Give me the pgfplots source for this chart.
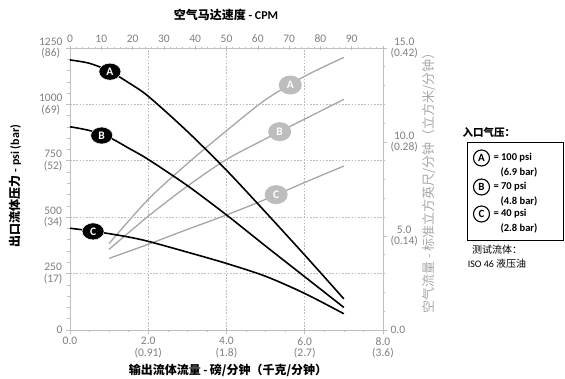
\documentclass[border=0pt]{standalone}
\usepackage{fontspec}
\setmainfont{Carlito}
\newfontfamily\cjk{Noto Sans CJK SC}
\usepackage{pgfplots}
\pgfplotsset{compat=1.18}
\usetikzlibrary{shapes.geometric}
\definecolor{axgray}{HTML}{BFBFBF}
\definecolor{tickgray}{HTML}{7F7F7F}
\definecolor{curvegray}{HTML}{A6A6A6}
\definecolor{labgray}{HTML}{BDBDBD}
\definecolor{gridgray}{HTML}{BBBBBB}
\definecolor{rlabgray}{HTML}{A8A8A8}
\pgfplotsset{
  base/.style={scale only axis, width=313pt, height=282pt, at={(0pt,0pt)}, anchor=south west,
    axis line style={axgray, line width=0.8pt},
    tick style={axgray, line width=0.6pt},
    major tick length=4pt, minor tick length=2.5pt,
    tick label style={font=\fontsize{11.5}{11.5}\selectfont, text=tickgray},
    /pgf/number format/assume math mode=true},
  blklab/.style={only marks, mark=none, nodes near coords={\textbf{#1}},
    every node near coord/.style={anchor=center, ellipse, fill=black, draw=white, line width=0.5pt, text=white, inner sep=0pt,
      minimum width=22pt, minimum height=17pt, font=\fontsize{11.5}{11.5}\selectfont}},
  graylab/.style={only marks, mark=none, nodes near coords={\textbf{#1}},
    every node near coord/.style={anchor=center, ellipse, fill=labgray, text=white, inner sep=0pt,
      minimum width=23pt, minimum height=19pt, font=\fontsize{11.5}{11.5}\selectfont}},
}
\begin{document}
\begin{tikzpicture}
\useasboundingbox (-70pt,-49pt) rectangle (495pt,330pt);
% main axis: left / bottom ticks and grid
\begin{axis}[base, xmin=0, xmax=8, ymin=0, ymax=1250,
  axis x line*=bottom, axis y line*=left, tick align=outside,
  xtick={0,2,4,6,8}, xticklabels={0.0,{2.0\\(0.91)},{4.0\\(1.8)},{6.0\\(2.7)},{8.0\\(3.6)}},
  xticklabel style={align=center}, minor x tick num=3,
  ytick={0,250,500,750,1000,1250},
  yticklabels={0,{250\\(17)},{500\\(34)},{750\\(52)},{1000\\(69)},{1250\\(86)}},
  yticklabel style={align=center}, minor y tick num=4,
  grid=major, major grid style={gridgray, dash pattern=on 1.6pt off 1.6pt, line width=0.6pt}]
\addplot[draw=none] coordinates {(0,0)};
\end{axis}
% right axis: air flow (gray curves)
\begin{axis}[base, xmin=0, xmax=8, ymin=0, ymax=15,
  axis y line*=right, axis x line=none, tick align=outside,
  ytick={0,5,10,15}, yticklabels={0.0,{5.0\\(0.14)},{10.0\\(0.28)},{15.0\\(0.42)}},
  yticklabel style={align=center}, minor y tick num=4]
\addplot[curvegray, line width=1.3pt, smooth] coordinates {(1,4.6) (2,6.95) (3,8.85) (4,10.6) (5,12.25) (6,13.5) (7,14.5)};
\addplot[curvegray, line width=1.3pt, smooth] coordinates {(1,4.29) (2,6.05) (3,7.65) (4,9.07) (5,10.17) (6,11.22) (7,12.27)};
\addplot[curvegray, line width=1.3pt, smooth] coordinates {(1,3.81) (2,4.56) (3,5.35) (4,6.12) (5,6.95) (6,7.85) (7,8.72)};
\addplot[graylab=A] coordinates {(5.63,13.03)};
\addplot[graylab=B] coordinates {(5.36,10.55)};
\addplot[graylab=C] coordinates {(5.27,7.2)};
\end{axis}
% top axis: CPM
\begin{axis}[base, xmin=0, xmax=100, ymin=0, ymax=1,
  axis x line*=top, axis y line=none, tick align=center,
  xtick={0,10,20,30,40,50,60,70,80,90,100},
  xticklabels={0,10,20,30,40,50,60,70,80,90,{}}, minor x tick num=4]
\addplot[draw=none] coordinates {(0,0)};
\end{axis}
% overlay: pressure curves
\begin{axis}[base, xmin=0, xmax=8, ymin=0, ymax=1250, hide axis]
\addplot[black, line width=1.6pt, smooth] coordinates {(0,1197) (0.5,1182) (1,1148) (1.5,1096) (2,1036) (3,880) (4,708) (5,522) (6,332) (7,138)};
\addplot[black, line width=1.6pt, smooth] coordinates {(0,901) (0.5,884) (1,854) (1.5,806) (2,756) (3,640) (4,510) (5,372) (6,236) (7,100)};
\addplot[black, line width=1.6pt, smooth] coordinates {(0,451) (0.5,440) (1,427) (1.5,412) (2,393) (3,345) (4,295) (5,238) (6,162) (7,72)};
\addplot[blklab=A] coordinates {(1.02,1145)};
\addplot[blklab=B] coordinates {(0.81,862)};
\addplot[blklab=C] coordinates {(0.59,437)};
\end{axis}
% titles
\node[font=\bfseries\fontsize{12}{12}\selectfont] at (156pt,315pt) {{\cjk 空气马达速度} - CPM};
\node[font=\bfseries\fontsize{12}{12}\selectfont] at (158pt,-40pt) {{\cjk 输出流体流量} - {\cjk 磅/分钟（千克/分钟）}};
\node[font=\bfseries\fontsize{12}{12}\selectfont, rotate=90] at (-55pt,144pt) {{\cjk 出口流体压力} - psi (bar)};
\node[font=\fontsize{13}{13}\selectfont, rotate=90, text=rlabgray] at (359pt,150pt) {{\cjk 空气流量 - 标准立方英尺/分钟（立方米/分钟）}};
% legend
\node[anchor=west, font=\bfseries\fontsize{10.5}{10.5}\selectfont] at (389pt,197pt) {\cjk 入口气压：};
\draw[black, line width=0.8pt] (397pt,188pt) rectangle (493pt,90pt);
\foreach \L/\y/\p/\b in {A/172/100/6.9, B/143/70/4.8, C/116/40/2.8} {
  \node[circle, draw=black, line width=1.1pt, inner sep=0pt, minimum size=16pt, font=\bfseries\fontsize{11}{11}\selectfont] at (411.5pt,\y pt) {\L};
  \node[anchor=west, font=\bfseries\fontsize{10.5}{10.5}\selectfont] at (420pt,\y pt) {= \p\ psi};
  \node[anchor=west, font=\bfseries\fontsize{10.5}{10.5}\selectfont] at (427pt,\y pt-14pt) {(\b\ bar)};
}
\node[font=\fontsize{10}{10}\selectfont] at (427pt,80pt) {\cjk 测试流体：};
\node[font=\fontsize{10}{10}\selectfont] at (427pt,66pt) {ISO 46 {\cjk 液压油}};
\end{tikzpicture}
\end{document}
